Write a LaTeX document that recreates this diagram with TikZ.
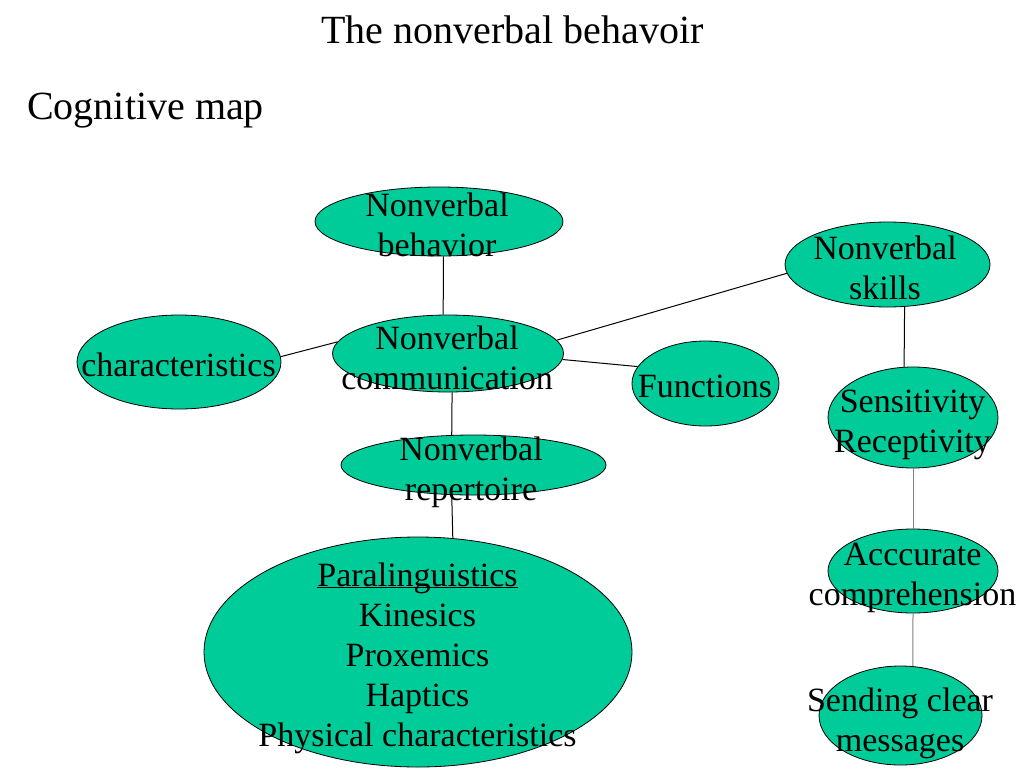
\documentclass[tikz,border=0pt]{standalone}
\usepackage{fontspec}
\usepackage{xcolor}
\usetikzlibrary{shapes.geometric}
\setmainfont{Liberation Serif}
\definecolor{bubble}{HTML}{00CC99}
\tikzset{
  bub/.style={ellipse, draw=black, fill=bubble, line width=0.8pt, inner sep=0pt},
  txt/.style={align=center, inner sep=0pt, font=\fontsize{34}{40}\selectfont},
  con/.style={line width=1pt},
}
\begin{document}
\begin{tikzpicture}[x=1pt,y=-1pt]
  \useasboundingbox (0,0) rectangle (1024,768);

  \node[anchor=base, inner sep=0pt, font=\fontsize{40}{48}\selectfont] (title) at (512.5,44) {The nonverbal behavoir};
  \node[anchor=base west, inner sep=0pt, font=\fontsize{40}{48}\selectfont] (map) at (27,119) {Cognitive map};

  \node[bub, minimum width=248, minimum height=69] (beh) at (439,221.5) {};
  \node[bub, minimum width=231, minimum height=77] (com) at (448,353.5) {};
  \node[bub, minimum width=204, minimum height=94] (cha) at (179,362) {};
  \node[bub, minimum width=147, minimum height=85] (fun) at (705.5,383.5) {};
  \node[bub, minimum width=205, minimum height=85] (sk) at (887.5,264.5) {};
  \node[bub, minimum width=170, minimum height=101] (sen) at (913,417.5) {};
  \node[bub, minimum width=265, minimum height=60] (rep) at (473.5,465) {};
  \node[bub, minimum width=428, minimum height=230] (big) at (418,652) {};
  \node[bub, minimum width=170, minimum height=84] (acc) at (913,571) {};
  \node[bub, minimum width=163, minimum height=99] (snd) at (900.5,715.5) {};

  \draw[con] (beh.-83) -- (com.97);
  \draw[con] (cha.3) -- (com.174);
  \draw[con] (com.7) -- (sk.185);
  \draw[con] (com.-3) -- (fun.166);
  \draw[con] (com.-84) -- (rep.126);
  \draw[con] (rep.-126) -- (big.73);
  \draw[con] (sk.-68) -- (sen.100);
  \draw[con, gray] (sen.south) -- (acc.north);
  \draw[con, gray] (acc.south) -- (snd.76);

  \node[txt] (behT) at (437,225) {Nonverbal\\behavior};
  \node[txt] (comT) at (447,357.5) {Nonverbal\\communication};
  \node[txt] (chaT) at (178.5,364.5) {characteristics};
  \node[txt] (funT) at (705,386.5) {Functions};
  \node[txt] (skT) at (885,267.5) {Nonverbal\\skills};
  \node[txt] (senT) at (912.5,425) {Sensitivity\\Receptivity};
  \node[txt] (repT) at (471,472) {Nonverbal\\repertoire};
  \node[txt] (bigT) at (417.5,658) {\underline{\smash{Paralinguistics}}\vphantom{Paralinguistics}\\Kinesics\\Proxemics\\Haptics\\Physical characteristics};
  \node[txt] (accT) at (912.5,578) {Acccurate\\comprehension};
  \node[txt] (sndT) at (900,723) {Sending clear\\messages};
\end{tikzpicture}
\end{document}
